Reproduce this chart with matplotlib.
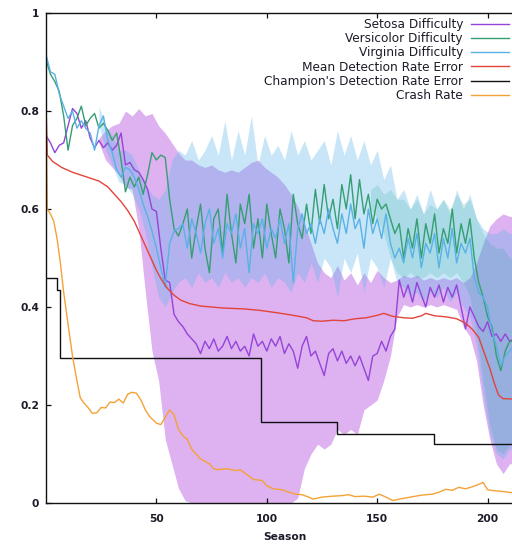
import matplotlib
matplotlib.use("Agg")
import matplotlib.pyplot as plt
import numpy as np

plt.rcParams['font.family'] = ['DejaVu Sans']

# ---------------- data ----------------
seasons = list(range(0, 213, 2))

setosa = [0.75, 0.735, 0.715, 0.73, 0.735, 0.77, 0.805, 0.795, 0.765, 0.78,
          0.745, 0.725, 0.74, 0.725, 0.735, 0.72, 0.73, 0.755, 0.69, 0.695,
          0.68, 0.675, 0.66, 0.64, 0.60, 0.595, 0.52, 0.455, 0.45, 0.385,
          0.37, 0.36, 0.345, 0.335, 0.325, 0.305, 0.33, 0.315, 0.335, 0.31,
          0.32, 0.34, 0.315, 0.33, 0.31, 0.32, 0.30, 0.345, 0.32, 0.33,
          0.31, 0.335, 0.32, 0.34, 0.305, 0.325, 0.31, 0.275, 0.32, 0.34,
          0.30, 0.31, 0.285, 0.26, 0.305, 0.315, 0.29, 0.31, 0.285, 0.30,
          0.28, 0.30, 0.275, 0.25, 0.30, 0.305, 0.33, 0.31, 0.34, 0.355,
          0.455, 0.42, 0.445, 0.41, 0.45, 0.425, 0.40, 0.44, 0.42, 0.445,
          0.41, 0.44, 0.42, 0.445, 0.40, 0.355, 0.40, 0.38, 0.36, 0.35,
          0.37, 0.34, 0.345, 0.33, 0.345, 0.33, 0.335]

versicolor = [0.905, 0.875, 0.86, 0.84, 0.79, 0.72, 0.77, 0.785, 0.81, 0.77,
              0.785, 0.795, 0.765, 0.775, 0.76, 0.74, 0.755, 0.70, 0.635, 0.665,
              0.645, 0.665, 0.63, 0.67, 0.715, 0.70, 0.71, 0.705, 0.62, 0.56,
              0.545, 0.57, 0.60, 0.50, 0.56, 0.61, 0.52, 0.47, 0.58, 0.60,
              0.51, 0.63, 0.55, 0.49, 0.61, 0.57, 0.63, 0.52, 0.58, 0.50,
              0.61, 0.55, 0.50, 0.60, 0.56, 0.49, 0.63, 0.57, 0.54, 0.61,
              0.55, 0.64, 0.57, 0.65, 0.58, 0.62, 0.56, 0.65, 0.60, 0.67,
              0.58, 0.66, 0.59, 0.63, 0.57, 0.62, 0.60, 0.61, 0.58, 0.55,
              0.57, 0.50, 0.56, 0.52, 0.58, 0.50, 0.57, 0.53, 0.59, 0.51,
              0.56, 0.53, 0.60, 0.51, 0.57, 0.53, 0.58, 0.50, 0.45, 0.42,
              0.38, 0.36, 0.30, 0.27, 0.31, 0.33, 0.33]

virginia = [0.915, 0.88, 0.875, 0.835, 0.81, 0.785, 0.80, 0.765, 0.78, 0.765,
            0.755, 0.72, 0.77, 0.79, 0.74, 0.715, 0.68, 0.665, 0.685, 0.68,
            0.665, 0.64, 0.61, 0.585, 0.555, 0.52, 0.48, 0.44, 0.53, 0.555,
            0.56, 0.57, 0.52, 0.58, 0.55, 0.51, 0.57, 0.60, 0.53, 0.56,
            0.50, 0.57, 0.55, 0.59, 0.52, 0.56, 0.47, 0.57, 0.55, 0.58,
            0.52, 0.56, 0.54, 0.58, 0.53, 0.57, 0.45, 0.56, 0.59, 0.55,
            0.57, 0.53, 0.58, 0.55, 0.60, 0.56, 0.53, 0.59, 0.55, 0.61,
            0.56, 0.58, 0.52, 0.60, 0.55, 0.58, 0.54, 0.59, 0.53, 0.50,
            0.52, 0.49, 0.54, 0.50, 0.55, 0.48, 0.53, 0.51, 0.55, 0.48,
            0.54, 0.50, 0.56, 0.49, 0.53, 0.51, 0.54, 0.46, 0.43, 0.42,
            0.40, 0.35, 0.32, 0.28, 0.30, 0.31, 0.32]

band_seasons = list(range(24, 214, 3))

setosa_hi = [0.745, 0.76, 0.77, 0.775, 0.80, 0.79, 0.805, 0.79, 0.795, 0.77,
             0.755, 0.735, 0.715, 0.70, 0.70, 0.69, 0.685, 0.69, 0.68, 0.675,
             0.68, 0.675, 0.685, 0.695, 0.70, 0.685, 0.675, 0.665, 0.65, 0.63,
             0.605, 0.57, 0.53, 0.49, 0.47, 0.46, 0.485, 0.455, 0.47, 0.445,
             0.47, 0.45, 0.475, 0.46, 0.45, 0.455, 0.465, 0.46, 0.465, 0.455,
             0.46, 0.455, 0.46, 0.455, 0.46, 0.45, 0.46, 0.49, 0.53, 0.565,
             0.58, 0.59, 0.585, 0.585]
setosa_lo = [0.735, 0.70, 0.685, 0.67, 0.645, 0.64, 0.56, 0.43, 0.31, 0.25,
             0.13, 0.08, 0.03, 0.005, 0.0, 0.0, 0.0, 0.0, 0.0, 0.0,
             0.0, 0.0, 0.0, 0.0, 0.0, 0.0, 0.0, 0.0, 0.0, 0.0,
             0.01, 0.07, 0.10, 0.12, 0.11, 0.12, 0.15, 0.14, 0.15, 0.14,
             0.19, 0.20, 0.21, 0.25, 0.30, 0.38, 0.405, 0.40, 0.405, 0.40,
             0.405, 0.40, 0.405, 0.40, 0.395, 0.36, 0.34, 0.29, 0.20, 0.13,
             0.08, 0.06, 0.08, 0.08]

virginia_hi = [0.81, 0.77, 0.75, 0.72, 0.72, 0.71, 0.68, 0.65, 0.63, 0.62,
               0.64, 0.70, 0.72, 0.71, 0.74, 0.70, 0.72, 0.75, 0.71, 0.78,
               0.70, 0.76, 0.71, 0.79, 0.69, 0.75, 0.71, 0.73, 0.70, 0.76,
               0.71, 0.74, 0.70, 0.72, 0.74, 0.69, 0.76, 0.71, 0.75, 0.70,
               0.74, 0.69, 0.72, 0.66, 0.69, 0.62, 0.64, 0.60, 0.63, 0.59,
               0.64, 0.60, 0.62, 0.59, 0.64, 0.60, 0.63, 0.58, 0.56, 0.55,
               0.55, 0.56, 0.55, 0.55]
virginia_lo = [0.77, 0.72, 0.69, 0.655, 0.65, 0.63, 0.60, 0.55, 0.48, 0.42,
               0.40, 0.43, 0.45, 0.46, 0.44, 0.47, 0.45, 0.46, 0.44, 0.47,
               0.45, 0.46, 0.44, 0.46, 0.45, 0.47, 0.44, 0.46, 0.45, 0.43,
               0.47, 0.45, 0.49, 0.45, 0.50, 0.48, 0.42, 0.50, 0.47, 0.51,
               0.43, 0.50, 0.48, 0.44, 0.50, 0.45, 0.44, 0.42, 0.43, 0.41,
               0.43, 0.42, 0.44, 0.41, 0.43, 0.40, 0.38, 0.32, 0.22, 0.14,
               0.10, 0.09, 0.11, 0.11]

versi_band_seasons = list(range(147, 214, 3))
versicolor_hi = [0.64, 0.65, 0.63, 0.64, 0.62, 0.62, 0.60, 0.62, 0.59, 0.61,
                 0.60, 0.62, 0.60, 0.63, 0.61, 0.62, 0.58, 0.55, 0.53, 0.52,
                 0.52, 0.50, 0.50]
versicolor_lo = [0.60, 0.58, 0.55, 0.50, 0.47, 0.46, 0.47, 0.46, 0.46, 0.47,
                 0.46, 0.47, 0.46, 0.47, 0.45, 0.42, 0.35, 0.25, 0.16, 0.11,
                 0.10, 0.12, 0.12]

mean_s = [0, 0.6, 3, 7, 12, 18, 24, 28, 31, 34, 37, 40, 43, 46, 48, 50, 52, 55,
          58, 61, 65, 70, 80, 90, 97, 105, 112, 118, 121, 125, 130, 135, 140,
          145, 150, 153, 157, 162, 166, 170, 172, 176, 181, 186, 190, 193, 196,
          199, 201, 203, 205, 207, 213]
mean_err = [0.81, 0.71, 0.697, 0.685, 0.675, 0.666, 0.657, 0.645, 0.63, 0.615,
            0.597, 0.575, 0.545, 0.515, 0.495, 0.475, 0.458, 0.438, 0.424, 0.414,
            0.407, 0.402, 0.398, 0.396, 0.393, 0.388, 0.383, 0.378, 0.372, 0.371,
            0.373, 0.372, 0.376, 0.378, 0.383, 0.387, 0.381, 0.378, 0.377, 0.382,
            0.387, 0.382, 0.380, 0.376, 0.367, 0.355, 0.338, 0.30, 0.275, 0.245,
            0.22, 0.213, 0.212]

champ_s = [0, 4.8, 6.3, 97.6, 131.7, 175.6, 213]
champ_err = [0.46, 0.435, 0.296, 0.166, 0.141, 0.121, 0.121]

crash_s = [0, 0.6, 2, 3.5, 5, 6.5, 8, 10, 12, 14, 15.5, 17, 19, 21, 23, 25, 27,
           29, 31, 33, 35, 37, 39, 41, 43, 45, 47, 50, 52, 54, 56, 58, 60, 62,
           64, 66, 68, 70, 72, 74, 76, 78, 82, 86, 88, 91, 94, 98, 100, 103, 107,
           110, 113, 116, 119, 121, 125, 130, 134, 137, 140, 144, 148, 151, 154,
           157, 160, 165, 170, 175, 178, 181, 184, 187, 190, 193, 196, 198, 200,
           203, 206, 213]
crash = [0.80, 0.60, 0.59, 0.575, 0.54, 0.49, 0.43, 0.365, 0.30, 0.25, 0.215,
         0.205, 0.195, 0.183, 0.184, 0.195, 0.194, 0.206, 0.205, 0.212, 0.204,
         0.222, 0.226, 0.224, 0.21, 0.19, 0.176, 0.163, 0.16, 0.175, 0.19, 0.18,
         0.15, 0.137, 0.13, 0.11, 0.10, 0.09, 0.085, 0.08, 0.07, 0.068, 0.07,
         0.066, 0.068, 0.058, 0.048, 0.046, 0.035, 0.029, 0.027, 0.022, 0.018,
         0.017, 0.012, 0.008, 0.012, 0.014, 0.015, 0.017, 0.013, 0.014, 0.012,
         0.018, 0.012, 0.005, 0.008, 0.012, 0.016, 0.018, 0.022, 0.028, 0.026,
         0.032, 0.029, 0.033, 0.038, 0.042, 0.027, 0.025, 0.024, 0.02]

labels = ["Setosa Difficulty", "Versicolor Difficulty", "Virginia Difficulty",
          "Mean Detection Rate Error", "Champion's Detection Rate Error", "Crash Rate"]
yticks = [0, 0.2, 0.4, 0.6, 0.8, 1]
ytick_labels = ["0", "0.2", "0.4", "0.6", "0.8", "1"]
xticks = [50, 100, 150, 200]

# ---------------- style ----------------
c_set = '#9400d3'
c_ver = '#009e73'
c_vir = '#56b4e9'
line_set = '#9444d8'
line_ver = '#359e72'
line_vir = '#58b2e6'
c_mean = '#e2443a'
c_champ = '#111111'
c_crash = '#f4a236'

W, H = 512, 547
fig = plt.figure(figsize=(W / 100, H / 100), dpi=100)
left = 46 / W
right = 524 / W
top = 1 - 13 / H
bottom = 1 - 503 / H
ax = fig.add_axes([left, bottom, right - left, top - bottom])

ax.fill_between(band_seasons, setosa_lo, setosa_hi, color=c_set, alpha=0.3, lw=0)
ax.fill_between(versi_band_seasons, versicolor_lo, versicolor_hi, color=c_ver, alpha=0.18, lw=0)
ax.fill_between(band_seasons, virginia_lo, virginia_hi, color=c_vir, alpha=0.32, lw=0)

lw = 1.0
ax.plot(seasons, setosa, color=line_set, lw=lw, label=labels[0])
ax.plot(seasons, versicolor, color=line_ver, lw=lw, label=labels[1])
ax.plot(seasons, virginia, color=line_vir, lw=lw, label=labels[2])
ax.plot(mean_s, mean_err, color=c_mean, lw=lw, label=labels[3])
ax.step(champ_s, champ_err, where='post', color=c_champ, lw=lw, label=labels[4])
ax.plot(crash_s, crash, color=c_crash, lw=lw, label=labels[5])

ax.set_xlim(0, 216.5)
ax.set_ylim(0, 1)
ax.set_xticks(xticks)
ax.set_xticklabels([str(v) for v in xticks])
ax.set_yticks(yticks)
ax.set_yticklabels(ytick_labels)

for s in ['left', 'top', 'bottom', 'right']:
    ax.spines[s].set_linewidth(1.0)
    ax.spines[s].set_color('#111111')

ax.tick_params(axis='both', direction='in', length=3.5, width=0.9, color='#111111',
               labelsize=7.7, labelcolor='#1c1c28')
ax.tick_params(axis='x', top=True, pad=8)
ax.tick_params(axis='y', right=False, pad=5)
for t in ax.get_xticklabels() + ax.get_yticklabels():
    t.set_fontweight('bold')

ax.set_xlabel("Season", fontsize=7.7, fontweight='bold', color='#1c1c28', labelpad=6)

leg = ax.legend(loc='upper right', bbox_to_anchor=(509 / W, 1 - 18 / H),
                bbox_transform=fig.transFigure, frameon=False, markerfirst=False,
                fontsize=8.7, handlelength=3.15, handletextpad=0.66, labelspacing=0.1,
                borderpad=0, borderaxespad=0)
for t in leg.get_texts():
    t.set_color('#1c1c28')

fig.savefig('out.png', dpi=100)
